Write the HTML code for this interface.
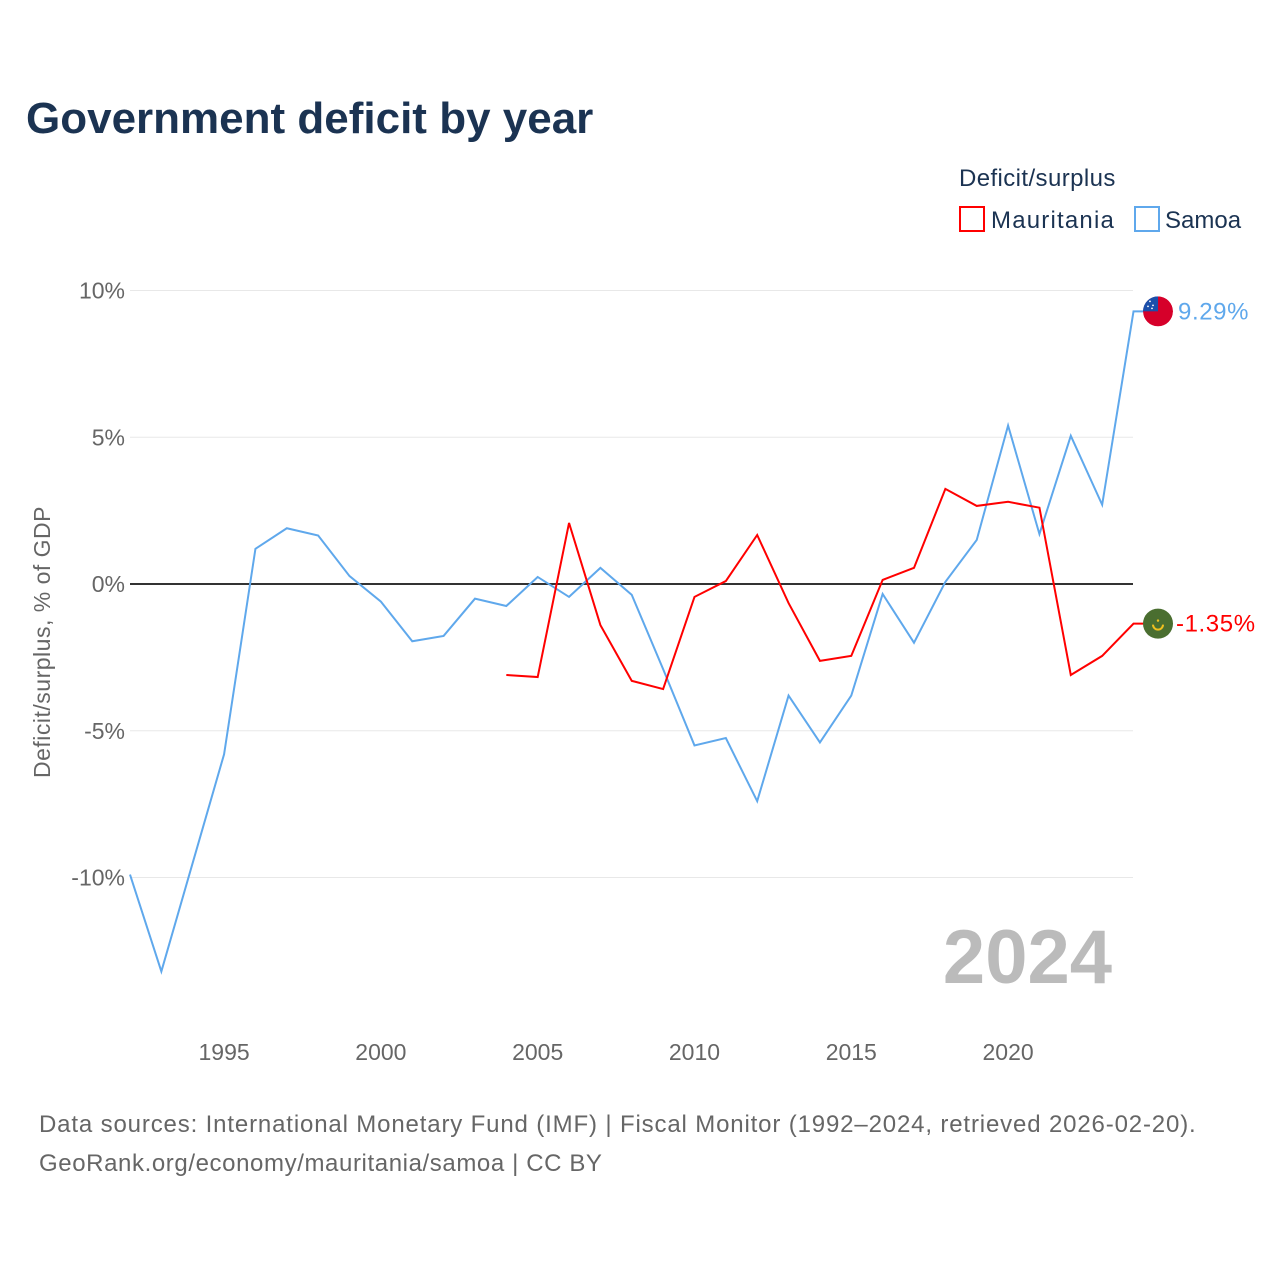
<!DOCTYPE html>
<html><head><meta charset="utf-8"><style>
body{margin:0;background:#fff;font-family:"Liberation Sans",sans-serif}
#c{position:relative;width:1280px;height:1280px;overflow:hidden}
</style></head><body>
<div id="c">
<svg id="svg" width="1280" height="1280" style="position:absolute;left:0;top:0">
<defs><clipPath id="fc"><circle cx="1158" cy="311" r="15"/></clipPath></defs>
<text x="26" y="133" font-size="44" font-weight="bold" fill="#1b3352">Government deficit by year</text>
<text x="959" y="186" font-size="24" fill="#1b3352" letter-spacing="0.4">Deficit/surplus</text>
<g><rect x="960" y="207" width="24" height="24" fill="none" stroke="#f00" stroke-width="2"/><text x="991" y="228" font-size="24" fill="#1b3352" letter-spacing="1.2">Mauritania</text></g>
<g><rect x="1135" y="207" width="24" height="24" fill="none" stroke="#5fa8ec" stroke-width="2"/><text x="1165" y="228" font-size="24" fill="#1b3352">Samoa</text></g>
<text transform="translate(50,642) rotate(-90)" text-anchor="middle" font-size="23" fill="#666" letter-spacing="0.5">Deficit/surplus, % of GDP</text>
<text x="1112" y="983" text-anchor="end" font-size="76" font-weight="bold" fill="#bbb">2024</text>
<g id="grid"></g><g id="series"></g>
<text x="39" y="1132" font-size="24" fill="#666" letter-spacing="0.85">Data sources: International Monetary Fund (IMF) | Fiscal Monitor (1992–2024, retrieved 2026-02-20).</text>
<text x="39" y="1171" font-size="24" fill="#666" letter-spacing="0.6">GeoRank.org/economy/mauritania/samoa | CC BY</text>
</svg></div>
<script>
const years=[1992,1993,1994,1995,1996,1997,1998,1999,2000,2001,2002,2003,2004,2005,2006,2007,2008,2009,2010,2011,2012,2013,2014,2015,2016,2017,2018,2019,2020,2021,2022,2023,2024];
const samoa=[-9.9,-13.2,-9.5,-5.8,1.2,1.9,1.65,0.27,-0.6,-1.95,-1.77,-0.5,-0.75,0.24,-0.44,0.55,-0.37,-2.9,-5.5,-5.25,-7.4,-3.8,-5.4,-3.8,-0.34,-2.0,0.07,1.5,5.4,1.7,5.05,2.7,9.29];
const mauritania=[null,null,null,null,null,null,null,null,null,null,null,null,-3.1,-3.17,2.08,-1.4,-3.3,-3.58,-0.44,0.1,1.67,-0.65,-2.62,-2.45,0.14,0.55,3.24,2.66,2.8,2.6,-3.1,-2.45,-1.35];
const yTicks=[10,5,0,-5,-10];
const yTickLabels=["10%","5%","0%","-5%","-10%"];
const xTicks=[1995,2000,2005,2010,2015,2020];
const X=y=>130+(y-1992)*31.36;
const Y=v=>584-v*29.35;
const NS="http://www.w3.org/2000/svg";
function mk(t,a,p){const e=document.createElementNS(NS,t);for(const k in a)e.setAttribute(k,a[k]);p.appendChild(e);return e;}
const grid=document.getElementById('grid'),ser=document.getElementById('series');
yTicks.forEach((v,i)=>{
 const l=mk('line',{x1:130,x2:1133,y1:Y(v),y2:Y(v),stroke:v===0?'#333':'#e8e8e8','stroke-width':v===0?2:1},grid);
 
 
 const t=mk('text',{x:125,y:Y(v)+8,'text-anchor':'end','font-size':23,fill:'#666'},grid);
 t.textContent=yTickLabels[i];
 
 
});
xTicks.forEach(y=>{
 const t=mk('text',{x:X(y),y:1060,'text-anchor':'middle','font-size':23,fill:'#666'},grid);
 t.textContent=y;
 
 
});
function draw(vals,color,name){
 let d='';vals.forEach((v,i)=>{if(v==null)return;d+=(d?'L':'M')+X(years[i])+' '+Y(v);});
 const last=vals[vals.length-1];
 d+='L'+(X(2024)+10)+' '+Y(last);
 const p=mk('path',{d:d,fill:'none',stroke:color,'stroke-width':2},ser);
 
 
 return last;
}
const ls=draw(samoa,'#5fa8ec','samoa');
const lm=draw(mauritania,'#f00','mauritania');
const cx=1158;
document.querySelector('#fc circle').setAttribute('cy',Y(ls));
let g=mk('g',{'clip-path':'url(#fc)'},ser);


mk('circle',{cx:cx,cy:Y(ls),r:15,fill:'#d6002a'},g);
mk('rect',{x:cx-15,y:Y(ls)-15,width:15,height:15,fill:'#1b4faa'},g);
[[-8,-10],[-5,-6],[-10,-5],[-6,-3]].forEach(([dx,dy])=>mk('circle',{cx:cx+dx,cy:Y(ls)+dy,r:0.9,fill:'#fff'},g));
let t=mk('text',{x:1178,y:Y(ls)+8,'font-size':24,fill:'#5fa8ec','letter-spacing':0.6},ser);
t.textContent=ls.toFixed(2)+'%';


g=mk('g',{},ser);


mk('circle',{cx:cx,cy:Y(lm),r:15,fill:'#4a6e30'},g);
mk('path',{d:`M${cx-5} ${Y(lm)+1} A5 5 0 0 0 ${cx+5} ${Y(lm)+1}`,fill:'none',stroke:'#f0c020','stroke-width':2},g);
mk('circle',{cx:cx,cy:Y(lm)-3,r:1.2,fill:'#f0c020'},g);
t=mk('text',{x:1176,y:Y(lm)+8,'font-size':24,fill:'#f00','letter-spacing':0.6},ser);
t.textContent=lm.toFixed(2)+'%';


</script>
</body></html>
